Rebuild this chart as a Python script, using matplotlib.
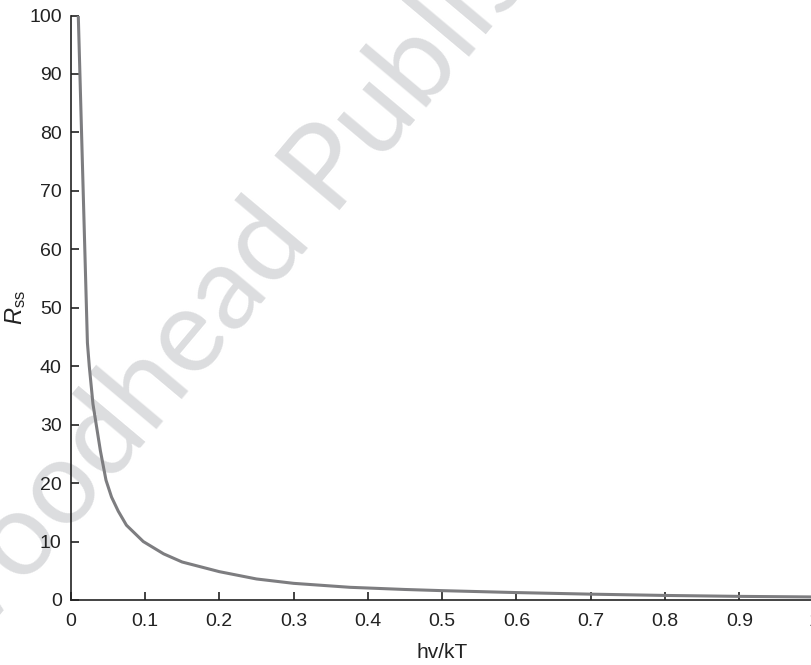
import matplotlib
matplotlib.use("Agg")
import matplotlib.pyplot as plt

# Data
x_vals = [0.0102, 0.0225, 0.025, 0.03, 0.035, 0.04, 0.0475, 0.055, 0.064,
          0.075, 0.0977, 0.125, 0.15, 0.2, 0.25, 0.3, 0.376, 0.45, 0.5,
          0.6, 0.7, 0.8, 0.9, 1.0]
r_vals = [100, 44, 40, 33.5, 29.5, 25.5, 20.5, 17.6, 15.2,
          12.8, 10.0, 7.9, 6.5, 4.85, 3.6, 2.85, 2.17, 1.8, 1.6,
          1.27, 1.0, 0.78, 0.62, 0.52]
x_ticks = [0, 0.1, 0.2, 0.3, 0.4, 0.5, 0.6, 0.7, 0.8, 0.9, 1]
x_ticklabels = ["0", "0.1", "0.2", "0.3", "0.4", "0.5", "0.6", "0.7", "0.8", "0.9", "1"]
y_ticks = [0, 10, 20, 30, 40, 50, 60, 70, 80, 90, 100]

plt.rcParams['font.family'] = ['Liberation Sans', 'DejaVu Sans']
plt.rcParams['mathtext.fontset'] = 'custom'
plt.rcParams['mathtext.rm'] = 'Liberation Sans'
plt.rcParams['mathtext.it'] = 'Liberation Sans:italic'

W, H = 811, 665
fig = plt.figure(figsize=(W / 100, H / 100), dpi=100)

# Watermark (behind the axes)
fig.text(-56.0 / W, (H - 682) / H, "Woodhead Publishing", rotation=50,
         rotation_mode='anchor', ha='left', va='baseline',
         fontsize=85, color='#dcdddf', family=['Lato', 'DejaVu Sans'],
         fontweight='normal', zorder=-5)

ax = fig.add_axes([70.7 / W, 65 / H, 743 / W, 584.5 / H])
ax.set_zorder(5)
ax.patch.set_alpha(0)
ax.plot(x_vals, r_vals, color='#7d7d80', lw=2.2, solid_capstyle='butt')
ax.set_xlim(0, 1)
ax.set_ylim(0, 100)
ax.set_xticks(x_ticks)
ax.set_xticklabels(x_ticklabels)
ax.set_yticks(y_ticks)
for s in ['top', 'right']:
    ax.spines[s].set_visible(False)
for s in ['left', 'bottom']:
    ax.spines[s].set_linewidth(1.2)
    ax.spines[s].set_color('#222222')
ax.tick_params(direction='in', length=6, width=1.2, color='#222222',
               labelsize=14, labelcolor='#222222')
ax.tick_params(axis='x', pad=9)
ax.tick_params(axis='y', pad=6.5)
ax.set_xlabel("hv/kT", fontsize=15, color='#222222', labelpad=10)
ax.set_ylabel(r"$\mathit{R}_{\mathrm{ss}}$", fontsize=17, color='#222222', labelpad=1)

fig.savefig("out.png", dpi=100)
